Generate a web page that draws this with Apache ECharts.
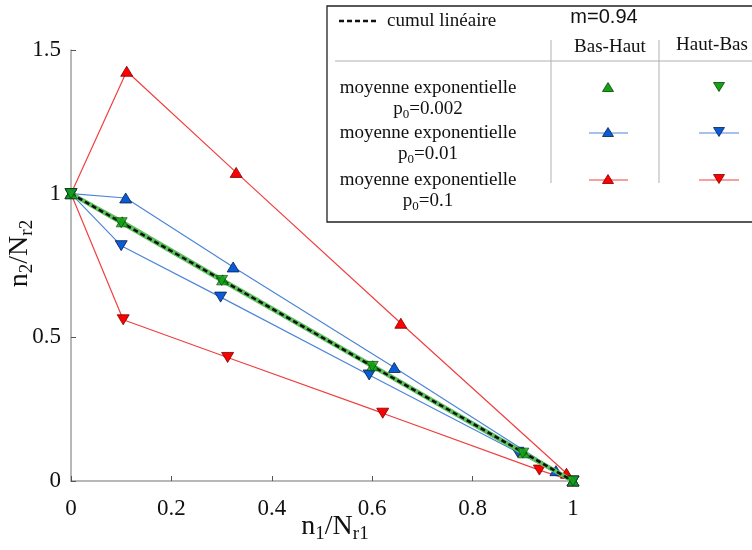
<!DOCTYPE html>
<html><head><meta charset="utf-8">
<script src="https://cdn.jsdelivr.net/npm/echarts@6/dist/echarts.min.js"></script>
<style>html,body{margin:0;padding:0;background:#fff}#c{width:752px;height:550px}</style>
</head><body><div id="c"></div>
<script>
// data: [n1/Nr1, n2/Nr2]
const cumulLineaire = [[0,1],[0.1,0.9],[0.3,0.7],[0.6,0.4],[0.9,0.1],[1,0]];
const bh_p0002 = [[0,1],[0.102,0.902],[0.302,0.700],[0.601,0.401],[0.902,0.098],[1,0]];
const hb_p0002 = [[0,1],[0.100,0.899],[0.300,0.698],[0.600,0.399],[0.900,0.097],[1,0]];
const bh_p001 = [[0,1],[0.109,0.985],[0.323,0.745],[0.644,0.395],[0.966,0.036],[1,0]];
const hb_p001 = [[0,1],[0.100,0.819],[0.298,0.640],[0.594,0.369],[0.890,0.100],[1,0]];
const bh_p01 = [[0,1],[0.111,1.426],[0.329,1.074],[0.657,0.549],[0.987,0.027],[1,0]];
const hb_p01 = [[0,1],[0.104,0.561],[0.312,0.430],[0.621,0.236],[0.933,0.038],[1,0]];
const xTicks = [0,0.2,0.4,0.6,0.8,1];
const yTicks = [0,0.5,1,1.5];

const SERIF = '"Liberation Serif","Times New Roman",serif';
const C = {
  redLine:'#f04040', redFill:'#ff0000', redBorder:'#7a0000',
  blueLine:'#4d85d9', blueFill:'#0a5bd8', blueBorder:'#0a1f44',
  greenLine:'#5cc35c', greenFill:'#13a313', greenBorder:'#064006'
};

function lineSeries(name, data, lc, fill, border, down, z){
  return {name, type:'line', data, z,
    lineStyle:{color:lc, width:1.2}, itemStyle:{color:fill, borderColor:border, borderWidth:0.8},
    symbol:'triangle', symbolSize:[12,10], symbolRotate: down?180:0, showSymbol:true,
    animation:false, emphasis:{disabled:true}};
}

const chart = echarts.init(document.getElementById('c'), null, {renderer:'canvas'});

const subRich = {
  a:{fontFamily:SERIF, fontSize:28, color:'#111', lineHeight:34},
  s:{fontFamily:SERIF, fontSize:19, color:'#111', verticalAlign:'bottom', lineHeight:34}
};

// legend graphics
const g = [];
g.push({type:'rect', shape:{x:327, y:6, width:440, height:216}, style:{fill:'#fff', stroke:'#222', lineWidth:1.3}, z:100});
g.push({type:'line', shape:{x1:339,y1:21,x2:377,y2:21}, style:{stroke:'#111', lineWidth:2.5, lineDash:[5,3]}, z:101});
g.push({type:'text', x:387, y:21, style:{text:'cumul linéaire', font:'19px '+SERIF, fill:'#111', textVerticalAlign:'middle'}, z:101});
g.push({type:'text', x:604, y:17, style:{text:'m=0.94', font:'20px "Liberation Sans",Arial,sans-serif', fill:'#111', textAlign:'center', textVerticalAlign:'middle'}, z:101});
g.push({type:'text', x:610, y:47, style:{text:'Bas-Haut', font:'19px '+SERIF, fill:'#111', textAlign:'center', textVerticalAlign:'middle'}, z:101});
g.push({type:'text', x:712, y:45, style:{text:'Haut-Bas', font:'19px '+SERIF, fill:'#111', textAlign:'center', textVerticalAlign:'middle'}, z:101});
g.push({type:'line', shape:{x1:335,y1:61,x2:752,y2:61}, style:{stroke:'#b0b0b0', lineWidth:1}, z:101});
g.push({type:'line', shape:{x1:551,y1:40,x2:551,y2:183}, style:{stroke:'#b0b0b0', lineWidth:1}, z:101});
g.push({type:'line', shape:{x1:659,y1:40,x2:659,y2:183}, style:{stroke:'#b0b0b0', lineWidth:1}, z:101});
const rows = [
  {p:'0.002', y:88, lc:null, fill:C.greenFill, border:C.greenBorder},
  {p:'0.01', y:133, lc:C.blueLine, fill:C.blueFill, border:C.blueBorder},
  {p:'0.1', y:180, lc:C.redLine, fill:C.redFill, border:C.redBorder}
];
function tri(cx, cy, down, fill, border){
  const w=5.5, h=4.5;
  const pts = down ? [[cx-w,cy-h],[cx+w,cy-h],[cx,cy+h]] : [[cx-w,cy+h],[cx+w,cy+h],[cx,cy-h]];
  return {type:'polygon', shape:{points:pts}, style:{fill, stroke:border, lineWidth:0.8}, z:103};
}
rows.forEach(r=>{
  g.push({type:'text', x:428, y:r.y, style:{text:'moyenne exponentielle', font:'19px '+SERIF, fill:'#111', textAlign:'center', textVerticalAlign:'middle'}, z:101});
  g.push({type:'text', x:428, y:r.y+21, style:{
    text:'{a|p}{s|0}{a|='+r.p+'}',
    rich:{a:{fontFamily:SERIF, fontSize:19, fill:'#111', lineHeight:22}, s:{fontFamily:SERIF, fontSize:13, fill:'#111', verticalAlign:'bottom', lineHeight:24}},
    textAlign:'center', textVerticalAlign:'middle'}, z:101});
  if(r.lc){
    g.push({type:'line', shape:{x1:589,y1:r.y,x2:628,y2:r.y}, style:{stroke:r.lc, lineWidth:1}, z:102});
    g.push({type:'line', shape:{x1:699,y1:r.y,x2:739,y2:r.y}, style:{stroke:r.lc, lineWidth:1}, z:102});
  }
  g.push(tri(608, r.y-1, false, r.fill, r.border));
  g.push(tri(719, r.y-1, true, r.fill, r.border));
});

const option = {
  backgroundColor:'#fff',
  animation:false,
  grid:{left:71, right:179, top:50, bottom:69, containLabel:false, outerBoundsMode:'none'},
  xAxis:{type:'value', min:0, max:1, interval:0.2,
    axisLine:{show:true, onZero:false, lineStyle:{color:'#a0a0a0', width:1.5}},
    axisTick:{show:true, inside:true, length:5, lineStyle:{color:'#555'}},
    splitLine:{show:false},
    axisLabel:{fontFamily:SERIF, fontSize:23, color:'#111', margin:16,
      formatter:v=> xTicks.includes(+v.toFixed(2)) ? String(+v.toFixed(2)) : ''},
    name:'{a|n}{s|1}{a|/N}{s|r1}', nameLocation:'middle', nameGap:29, nameMoveOverlap:false,
    nameTextStyle:{rich:subRich, padding:[0,0,0,26]}
  },
  yAxis:{type:'value', min:0, max:1.5, interval:0.5,
    axisLine:{show:true, onZero:false, lineStyle:{color:'#a0a0a0', width:1.5}},
    axisTick:{show:true, inside:true, length:5, lineStyle:{color:'#555'}},
    splitLine:{show:false},
    axisLabel:{fontFamily:SERIF, fontSize:23, color:'#111', margin:10,
      formatter:v=> yTicks.includes(+v.toFixed(2)) ? String(+v.toFixed(2)) : ''},
    name:'{a|n}{s|2}{a|/N}{s|r2}', nameLocation:'middle', nameGap:34, nameRotate:90, nameMoveOverlap:false,
    nameTextStyle:{rich:subRich, padding:[0,0,0,24]}
  },
  graphic:g,
  series:[
    lineSeries('bh01', bh_p01, C.redLine, C.redFill, C.redBorder, false, 2),
    lineSeries('hb01', hb_p01, C.redLine, C.redFill, C.redBorder, true, 2),
    lineSeries('bh001', bh_p001, C.blueLine, C.blueFill, C.blueBorder, false, 3),
    lineSeries('hb001', hb_p001, C.blueLine, C.blueFill, C.blueBorder, true, 3),
    {name:'bh0002l', type:'line', data:bh_p0002, showSymbol:false, z:4, lineStyle:{color:C.greenLine, width:4}, animation:false},
    {name:'hb0002l', type:'line', data:hb_p0002, showSymbol:false, z:4, lineStyle:{color:C.greenLine, width:4}, animation:false},
    {name:'cumul', type:'line', data:cumulLineaire, showSymbol:false, z:5, lineStyle:{color:'#111', width:2.5, type:[5,3]}, animation:false},
    {name:'bh0002', type:'scatter', data:bh_p0002, z:6, symbol:'triangle', symbolSize:[12,10],
      itemStyle:{color:C.greenFill, borderColor:C.greenBorder, borderWidth:0.8}, animation:false},
    {name:'hb0002', type:'scatter', data:hb_p0002, z:6, symbol:'triangle', symbolSize:[12,10], symbolRotate:180,
      itemStyle:{color:C.greenFill, borderColor:C.greenBorder, borderWidth:0.8}, animation:false}
  ]
};
chart.setOption(option);
</script>
</body></html>
